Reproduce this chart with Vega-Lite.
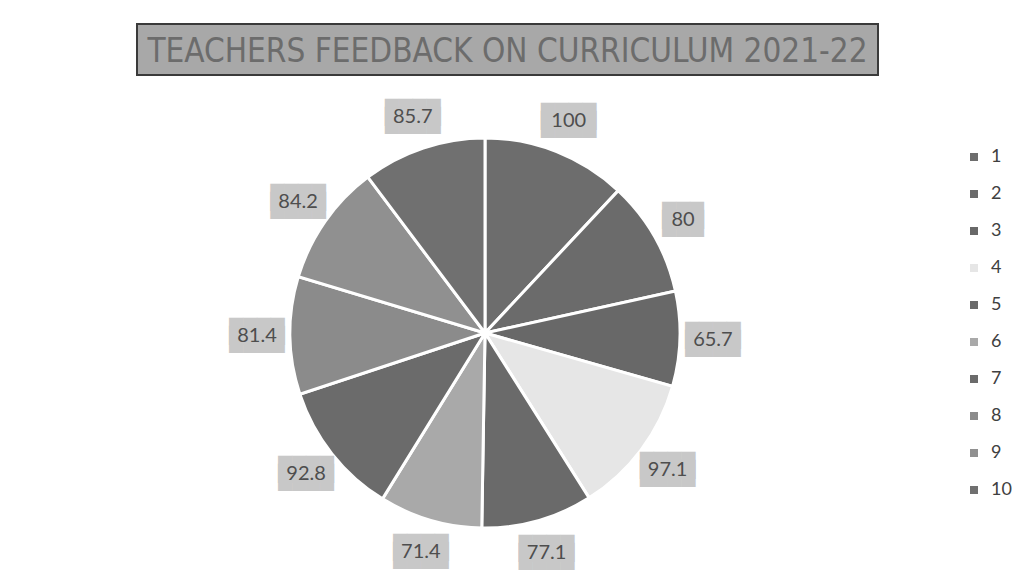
{
  "$schema": "https://vega.github.io/schema/vega-lite/v6.json",
  "background": "white",
  "padding": {"left": 136, "top": 23, "right": 0, "bottom": 0},
  "spacing": 10,
  "vconcat": [
    {
      "width": 741,
      "height": 51,
      "view": {"fill": "#a8a8a8", "stroke": "#3a3a3a", "strokeWidth": 2},
      "data": {"values": [{"t": "TEACHERS FEEDBACK ON CURRICULUM 2021-22"}]},
      "mark": {"type": "text", "font": "Liberation Sans Narrow, DejaVu Sans Condensed, Lato", "fontSize": 33, "baseline": "middle", "align": "center", "dy": 2},
      "encoding": {"text": {"field": "t", "type": "nominal"}, "color": {"value": "#6c6c6c"}}
    },
    {
      "width": 696,
      "height": 494,
      "view": {"stroke": null},
      "data": {"values": [
        {"id": 1, "value": 100},
        {"id": 2, "value": 80},
        {"id": 3, "value": 65.7},
        {"id": 4, "value": 97.1},
        {"id": 5, "value": 77.1},
        {"id": 6, "value": 71.4},
        {"id": 7, "value": 92.8},
        {"id": 8, "value": 81.4},
        {"id": 9, "value": 84.2},
        {"id": 10, "value": 85.7}
      ]},
      "encoding": {
        "theta": {"field": "value", "type": "quantitative", "stack": true},
        "order": {"field": "id", "type": "quantitative"},
        "color": {
          "field": "id", "type": "ordinal",
          "scale": {"domain": [1,2,3,4,5,6,7,8,9,10], "range": ["#6d6d6d","#6b6b6b","#686868","#e6e6e6","#6a6a6a","#a9a9a9","#6b6b6b","#8b8b8b","#909090","#707070"]},
          "legend": {"title": null, "orient": "none", "legendX": 828, "legendY": 124, "symbolType": "square", "symbolSize": 64, "symbolStrokeWidth": 0, "labelFont": "Lato", "labelFontSize": 18, "labelColor": "#404040", "rowPadding": 19, "labelOffset": 8}
        }
      },
      "layer": [
        {"mark": {"type": "arc", "outerRadius": 195, "stroke": "white", "strokeWidth": 3}},
        {
          "transform": [{"calculate": "pad('', length(replace('' + datum.value, '.', '')) + 1, '█')", "as": "box"}],
          "mark": {"type": "text", "radius": 228, "font": "DejaVu Sans Mono", "fontSize": 23, "baseline": "middle", "align": "center", "dy": -4},
          "encoding": {"text": {"field": "box", "type": "nominal"}, "color": {"value": "#c8c8c8"}}
        },
        {
          "transform": [{"calculate": "pad('', length(replace('' + datum.value, '.', '')) + 1, '█')", "as": "box"}],
          "mark": {"type": "text", "radius": 228, "font": "DejaVu Sans Mono", "fontSize": 23, "baseline": "middle", "align": "center", "dy": 4},
          "encoding": {"text": {"field": "box", "type": "nominal"}, "color": {"value": "#c8c8c8"}}
        },
        {
          "mark": {"type": "text", "radius": 228, "font": "Lato", "fontSize": 20, "baseline": "middle", "align": "center"},
          "encoding": {"text": {"field": "value", "type": "nominal"}, "color": {"value": "#4e4e4e"}}
        }
      ]
    }
  ]
}
